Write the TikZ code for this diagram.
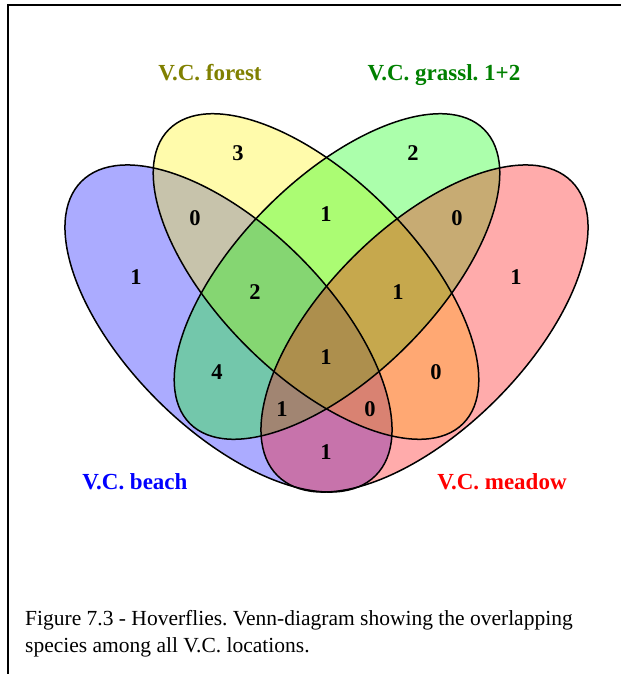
\documentclass[tikz,border=0pt]{standalone}
\usepackage{fontspec}
\setmainfont{Liberation Serif}
\frenchspacing
\definecolor{beachblue}{RGB}{0,0,255}
\definecolor{forestolive}{RGB}{128,128,0}
\definecolor{grassgreen}{RGB}{0,128,0}
\definecolor{meadowred}{RGB}{255,0,0}

\begin{document}
\begin{tikzpicture}[
      x=1pt, y=-1pt,
      setfill/.style={fill=#1, fill opacity=0.33},
      setline/.style={draw=black, line width=1.5pt},
      count/.style={font=\fontsize{22.5}{26}\selectfont\bfseries, inner sep=0pt},
      setname/.style={font=\fontsize{23}{27}\selectfont\bfseries, text=#1, anchor=base, inner sep=0pt},
      capline/.style={font=\fontsize{21.5}{27}\selectfont, anchor=base west, inner sep=0pt},
    ]
    \useasboundingbox (0,0) rectangle (621,674);

    % frame
    \draw[line width=2pt] (8,674) -- (8,5) -- (621,5);

    % centres of the four sets
    \coordinate (cBeach) at (228.5,328.5);
    \coordinate (cForest) at (316,276.5);
    \coordinate (cGrass) at (337,276.5);
    \coordinate (cMeadow) at (424.5,328.5);

    % fills first, outlines on top
    \path[setfill=blue, rotate around={-45:(cBeach)}] (cBeach) ellipse [x radius=208pt, y radius=101pt];
    \path[setfill=yellow, rotate around={-45:(cForest)}] (cForest) ellipse [x radius=208pt, y radius=98.5pt];
    \path[setfill=green, rotate around={45:(cGrass)}] (cGrass) ellipse [x radius=208pt, y radius=98.5pt];
    \path[setfill=red, rotate around={45:(cMeadow)}] (cMeadow) ellipse [x radius=208pt, y radius=101pt];
    \draw[setline, rotate around={-45:(cBeach)}] (cBeach) ellipse [x radius=208pt, y radius=101pt];
    \draw[setline, rotate around={-45:(cForest)}] (cForest) ellipse [x radius=208pt, y radius=98.5pt];
    \draw[setline, rotate around={45:(cGrass)}] (cGrass) ellipse [x radius=208pt, y radius=98.5pt];
    \draw[setline, rotate around={45:(cMeadow)}] (cMeadow) ellipse [x radius=208pt, y radius=101pt];

    % counts
    \node[count] (nF) at (238,153) {3};
    \node[count] (nG) at (413,153) {2};
    \node[count] (nBF) at (195,218) {0};
    \node[count] (nFG) at (326,214) {1};
    \node[count] (nGM) at (457,218) {0};
    \node[count] (nB) at (136,277) {1};
    \node[count] (nBFG) at (255,292) {2};
    \node[count] (nFGM) at (398,292) {1};
    \node[count] (nM) at (516,277) {1};
    \node[count] (nAll) at (326,357) {1};
    \node[count] (nBG) at (217,372) {4};
    \node[count] (nFM) at (436,372) {0};
    \node[count] (nBGM) at (282,409) {1};
    \node[count] (nBFM) at (370,409) {0};
    \node[count] (nBM) at (326,452) {1};

    % set names
    \node[setname=forestolive] (lForest) at (210,81) {V.C. forest};
    \node[setname=grassgreen] (lGrass) at (444,81) {V.C. grassl. 1+2};
    \node[setname=beachblue] (lBeach) at (135,489) {V.C. beach};
    \node[setname=meadowred] (lMeadow) at (502,489) {V.C. meadow};

    % caption
    \node[capline] (capA) at (25,625) {Figure 7.3 - Hoverflies. Venn-diagram showing the overlapping};
    \node[capline] (capB) at ([yshift=-27pt]capA.base west) {species among all V.C. locations.};
  \end{tikzpicture}
\end{document}
